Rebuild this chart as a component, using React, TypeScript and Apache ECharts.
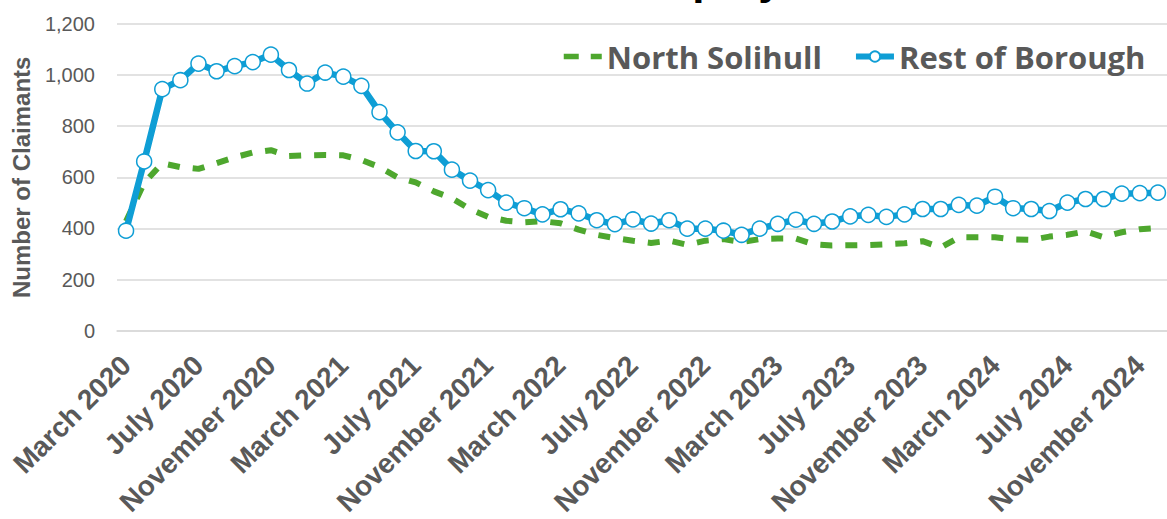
import { useEffect, useRef } from "react";
import * as echarts from "echarts";

const months = [
  "March 2020", "April 2020", "May 2020", "June 2020", "July 2020", "August 2020", "September 2020", "October 2020", "November 2020", "December 2020",
  "January 2021", "February 2021", "March 2021", "April 2021", "May 2021", "June 2021", "July 2021", "August 2021", "September 2021", "October 2021", "November 2021", "December 2021",
  "January 2022", "February 2022", "March 2022", "April 2022", "May 2022", "June 2022", "July 2022", "August 2022", "September 2022", "October 2022", "November 2022", "December 2022",
  "January 2023", "February 2023", "March 2023", "April 2023", "May 2023", "June 2023", "July 2023", "August 2023", "September 2023", "October 2023", "November 2023", "December 2023",
  "January 2024", "February 2024", "March 2024", "April 2024", "May 2024", "June 2024", "July 2024", "August 2024", "September 2024", "October 2024", "November 2024", "December 2024",
];

const northSolihull = [
  428, 578, 655, 640, 633, 655, 678, 697, 706, 683,
  686, 687, 686, 668, 640, 600, 580, 545, 518, 475,
  445, 430, 424, 428, 420, 395, 375, 362, 352, 343,
  352, 336, 352, 358, 347, 358, 360, 360, 338, 333,
  334, 335, 338, 342, 350, 325, 365, 365, 365, 357,
  355, 368, 375, 388, 366, 385, 397, 402,
];

const restOfBorough = [
  391, 662, 945, 980, 1045, 1015, 1035, 1051, 1080, 1020,
  967, 1010, 994, 958, 855, 776, 703, 702, 630, 587,
  550, 501, 479, 455, 475, 459, 432, 417, 435, 419,
  432, 399, 399, 391, 375, 399, 418, 434, 418, 427,
  447, 453, 445, 455, 476, 476, 492, 489, 524, 479,
  476, 468, 501, 515, 515, 536, 538, 540,
];

const titleText = "Unemployment Claimants";

const GREEN = "#4EA72E";
const BLUE = "#0F9ED5";
const TEXT = "#595959";
const GRID = "#D9D9D9";

export default function App() {
  const ref = useRef<HTMLDivElement>(null);

  useEffect(() => {
    document.body.style.margin = "0";
    const chart = echarts.init(ref.current!, null, { renderer: "svg" });
    chart.setOption({
      animation: false,
      textStyle: { fontFamily: "Liberation Sans" },
      grid: { left: 117, top: 24, bottom: 186, right: -17 },
      graphic: [
        {
          type: "text",
          x: 570,
          y: -44,
          style: {
            text: titleText,
            font: 'bold 44px "Liberation Sans"',
            fill: "#000000",
            textVerticalAlign: "top",
          },
        },
      ],
      legend: {
        left: 556,
        top: 36,
        itemWidth: 38,
        itemHeight: 13,
        itemGap: 31,
        textStyle: {
          fontSize: 31,
          fontWeight: "bold",
          color: TEXT,
          fontFamily: "Open Sans",
        },
        data: [
          {
            name: "North Solihull",
            itemStyle: { opacity: 0 },
            lineStyle: { width: 5.5, type: [15, 12], color: GREEN },
          },
          {
            name: "Rest of Borough",
            lineStyle: { width: 6, color: BLUE },
          },
        ],
      },
      xAxis: {
        type: "category",
        data: months,
        boundaryGap: true,
        axisLine: { show: true, lineStyle: { color: GRID, width: 1.5 } },
        axisTick: { show: false },
        axisLabel: {
          interval: 3,
          rotate: 45,
          margin: 30,
          fontSize: 28,
          fontWeight: "bold",
          color: TEXT,
          fontFamily: "Liberation Sans",
        },
      },
      yAxis: {
        type: "value",
        min: 0,
        max: 1200,
        interval: 200,
        name: "Number of Claimants",
        nameLocation: "middle",
        nameGap: 84,
        nameTextStyle: { fontSize: 24, fontWeight: "bold", color: TEXT, fontFamily: "Liberation Sans" },
        axisLine: { show: false },
        axisTick: { show: false },
        axisLabel: {
          margin: 22,
          fontSize: 20,
          color: TEXT,
          fontFamily: "Liberation Sans",
          formatter: (v: number) => v.toLocaleString("en-US"),
        },
        splitLine: { lineStyle: { color: GRID, width: 1.5 } },
      },
      series: [
        {
          name: "North Solihull",
          type: "line",
          data: northSolihull,
          symbol: "none",
          lineStyle: { color: GREEN, width: 6, type: [12, 13], cap: "butt" },
          itemStyle: { color: GREEN },
        },
        {
          name: "Rest of Borough",
          type: "line",
          data: restOfBorough,
          symbol: "circle",
          symbolSize: 15,
          showAllSymbol: true,
          lineStyle: { color: BLUE, width: 6.5 },
          itemStyle: { color: "#FFFFFF", borderColor: BLUE, borderWidth: 1.5 },
        },
      ],
    });
    return () => chart.dispose();
  }, []);

  return <div ref={ref} style={{ width: 1167, height: 519 }} />;
}
